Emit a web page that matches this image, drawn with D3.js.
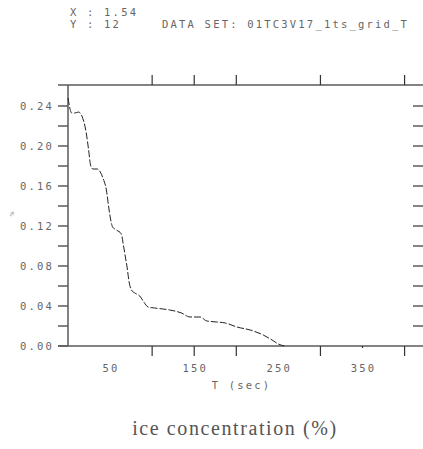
<!DOCTYPE html>
<html>
<head>
<meta charset="utf-8">
<script src="https://cdn.jsdelivr.net/npm/d3@7"></script>
<style>
  body { margin: 0; background: #fff; }
</style>
</head>
<body>
<div id="chart"></div>
<script>
/**
 * DATA
 * */
const timeSec = [0, 4.5, 8, 12.5, 16.5, 21.7, 24.5, 26.8, 29.6, 34.8, 38.4, 41.5, 45.6, 48.5, 51, 53, 57.5, 63.5, 65.4, 68.2, 70.2, 72.6, 75.4, 79.4, 85.3, 90.1, 95.2, 103, 121, 135, 145, 157, 165, 177, 187, 200.7, 216.6, 232, 242.5, 250, 257];
const iceConc = [0.248, 0.233, 0.233, 0.234, 0.230, 0.213, 0.196, 0.181, 0.177, 0.177, 0.174, 0.168, 0.156, 0.138, 0.125, 0.119, 0.116, 0.112, 0.103, 0.089, 0.079, 0.064, 0.056, 0.053, 0.050, 0.044, 0.039, 0.038, 0.036, 0.033, 0.029, 0.029, 0.025, 0.024, 0.023, 0.019, 0.016, 0.011, 0.006, 0.002, 0.000];

const xLabelTicks = [50, 150, 250, 350];
const xMajorTicks = [100, 150, 200, 300, 400];
const xMinorTicks = [350];
const yLabelTicks = [0.00, 0.04, 0.08, 0.12, 0.16, 0.20, 0.24];
const yAllTicks = [0.00, 0.02, 0.04, 0.06, 0.08, 0.10, 0.12, 0.14, 0.16, 0.18, 0.20, 0.22, 0.24];

const width = 423, height = 449;
const axisColor = "#5a5a5a", textColor = "#666";
const mono = "DejaVu Sans Mono, monospace";

const svg = d3.select("#chart").append("svg")
  .attr("width", width)
  .attr("height", height);

const x = d3.scaleLinear().domain([0, 410]).range([68, 413]);
const y = d3.scaleLinear().domain([0, 0.261]).range([346, 85]);

// small label helper, wide spaced like the plot font
function smallText(sel) {
  return sel.style("font-family", mono).attr("font-size", 10.5)
    .attr("letter-spacing", 2.2).attr("fill", textColor);
}

// header
svg.append("text").attr("x", 70).attr("y", 16).call(smallText).text("X : 1.54");
svg.append("text").attr("x", 70).attr("y", 28).call(smallText).text("Y : 12");
svg.append("text").attr("x", 162).attr("y", 28).call(smallText)
  .text("DATA SET: 01TC3V17_1ts_grid_T");

// frame lines
const frame = svg.append("g").attr("stroke", axisColor).attr("stroke-width", 1.5).attr("fill", "none");
frame.append("line").attr("x1", 58).attr("x2", width).attr("y1", y(0.261)).attr("y2", y(0.261));
frame.append("line").attr("x1", 58).attr("x2", width).attr("y1", y(0)).attr("y2", y(0));
frame.append("line").attr("x1", x(0)).attr("x2", x(0)).attr("y1", y(0.261)).attr("y2", y(0));

// left ticks (outward) and right ticks
frame.selectAll(".yl").data(yAllTicks).join("line")
  .attr("x1", 58).attr("x2", x(0))
  .attr("y1", d => y(d)).attr("y2", d => y(d));
frame.selectAll(".yr").data(yAllTicks.filter(d => d > 0)).join("line")
  .attr("x1", x(410)).attr("x2", width)
  .attr("y1", d => y(d)).attr("y2", d => y(d));

// top and bottom ticks (outward)
const tickG = svg.append("g").attr("stroke", "#333").attr("stroke-width", 1.2);
tickG.selectAll(".xt").data(xMajorTicks).join("line")
  .attr("x1", d => x(d)).attr("x2", d => x(d))
  .attr("y1", y(0.261)).attr("y2", y(0.261) - 10);
tickG.selectAll(".xb").data(xMajorTicks).join("line")
  .attr("x1", d => x(d)).attr("x2", d => x(d))
  .attr("y1", y(0)).attr("y2", y(0) + 10);
tickG.selectAll(".xbm").data(xMinorTicks).join("line")
  .attr("x1", d => x(d)).attr("x2", d => x(d))
  .attr("y1", y(0)).attr("y2", y(0) + 2);

// tick labels
svg.selectAll(".ylab").data(yLabelTicks).join("text")
  .attr("x", 54).attr("y", d => y(d) + 4)
  .attr("text-anchor", "end").call(smallText)
  .text(d => d3.format(".2f")(d));
svg.selectAll(".xlab").data(xLabelTicks).join("text")
  .attr("x", d => x(d) + 1).attr("y", 372)
  .attr("text-anchor", "middle").call(smallText)
  .text(d => d);

// axis titles
svg.append("text").attr("x", x(205) + 1).attr("y", 389)
  .attr("text-anchor", "middle").call(smallText).text("T (sec)");
svg.append("text").attr("transform", "translate(14,214) rotate(-90)")
  .attr("text-anchor", "middle").attr("font-size", 6).attr("fill", textColor).text("%");

svg.append("text").attr("x", 235).attr("y", 435)
  .attr("text-anchor", "middle").attr("font-size", 20)
  .attr("letter-spacing", 1.6)
  .style("font-family", "Liberation Serif, serif").attr("fill", "#555")
  .text("ice concentration (%)");

// data line
const line = d3.line()
  .x((d, i) => x(timeSec[i]))
  .y(d => y(d))
  .curve(d3.curveMonotoneX);

svg.append("path")
  .datum(iceConc)
  .attr("d", line)
  .attr("fill", "none")
  .attr("stroke", "#222")
  .attr("stroke-width", 1)
  .attr("stroke-dasharray", "7,2");
</script>
</body>
</html>
